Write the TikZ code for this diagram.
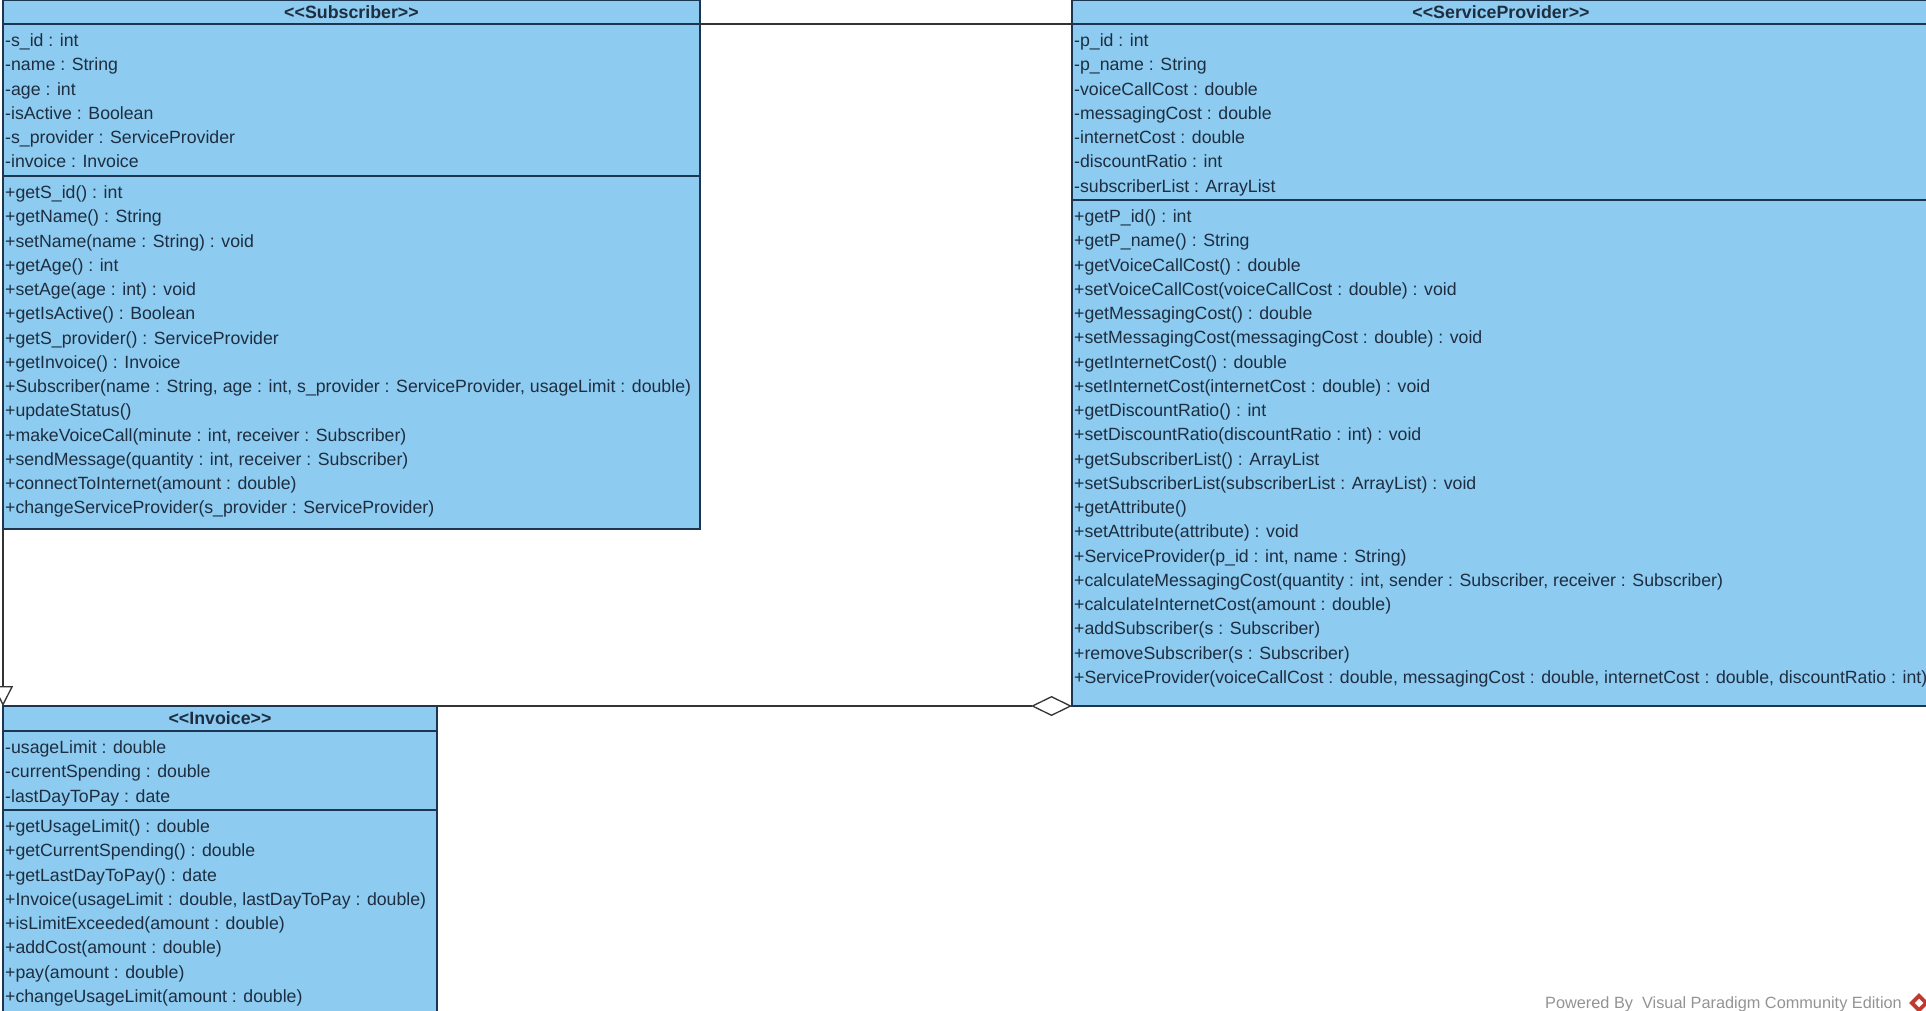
\documentclass[tikz,border=0pt]{standalone}
\usepackage{fontspec}
\setmainfont{Liberation Sans}
\usetikzlibrary{positioning,arrows.meta}
\definecolor{classfill}{HTML}{8DCBF0}
\definecolor{classline}{HTML}{1C3550}
\definecolor{classtext}{HTML}{1E2E40}
\definecolor{assocline}{HTML}{333333}
\definecolor{vpred}{HTML}{C0392F}
\tikzset{
	classbox/.style={draw=classline, line width=1.3pt, fill=classfill, rectangle, inner sep=0pt, outer sep=0pt, anchor=north west},
	namebox/.style={classbox, minimum height=24pt, text=classtext, font=\fontsize{17.8}{20}\selectfont\bfseries},
	rowtext/.style={anchor=north west, align=left, inner xsep=2pt, inner ysep=0pt, text=classtext, font=\fontsize{17.7}{24.25}\selectfont},
	assoc/.style={draw=assocline, line width=1.3pt},
}
\begin{document}
\begin{tikzpicture}[x=1pt, y=-1pt]
	\path[use as bounding box, clip] (0,0) rectangle (1926,1010);
	% subscriber
	\node[namebox, minimum width=697pt] (subname) at (3,0) {{<}{<}Subscriber{>}{>}};
	\node[classbox, minimum width=697pt, minimum height=152pt] (subattrs) at (subname.south west) {};
	\node[classbox, minimum width=697pt, minimum height=353pt] (subops) at (subattrs.south west) {};
	\node[rowtext, below right=9.5pt and 0pt of subattrs.north west] (subattrrows) {-s\_id : int\\-name : String\\-age : int\\-isActive : Boolean\\-s\_provider : ServiceProvider\\-invoice : Invoice};
	\node[rowtext, below right=9.5pt and 0pt of subops.north west] (subrows) {+getS\_id() : int\\+getName() : String\\+setName(name : String) : void\\+getAge() : int\\+setAge(age : int) : void\\+getIsActive() : Boolean\\+getS\_provider() : ServiceProvider\\+getInvoice() : Invoice\\+Subscriber(name : String, age : int, s\_provider : ServiceProvider, usageLimit : double)\\+updateStatus()\\+makeVoiceCall(minute : int, receiver : Subscriber)\\+sendMessage(quantity : int, receiver : Subscriber)\\+connectToInternet(amount : double)\\+changeServiceProvider(s\_provider : ServiceProvider)};
	% service provider
	\node[namebox, minimum width=858pt] (svcname) at (1072,0) {{<}{<}ServiceProvider{>}{>}};
	\node[classbox, minimum width=858pt, minimum height=176pt] (svcattrs) at (svcname.south west) {};
	\node[classbox, minimum width=858pt, minimum height=506pt] (svcops) at (svcattrs.south west) {};
	\node[rowtext, below right=9.5pt and 0pt of svcattrs.north west] (svcattrrows) {-p\_id : int\\-p\_name : String\\-voiceCallCost : double\\-messagingCost : double\\-internetCost : double\\-discountRatio : int\\-subscriberList : ArrayList};
	\node[rowtext, below right=9.5pt and 0pt of svcops.north west] (svcrows) {+getP\_id() : int\\+getP\_name() : String\\+getVoiceCallCost() : double\\+setVoiceCallCost(voiceCallCost : double) : void\\+getMessagingCost() : double\\+setMessagingCost(messagingCost : double) : void\\+getInternetCost() : double\\+setInternetCost(internetCost : double) : void\\+getDiscountRatio() : int\\+setDiscountRatio(discountRatio : int) : void\\+getSubscriberList() : ArrayList\\+setSubscriberList(subscriberList : ArrayList) : void\\+getAttribute()\\+setAttribute(attribute) : void\\+ServiceProvider(p\_id : int, name : String)\\+calculateMessagingCost(quantity : int, sender : Subscriber, receiver : Subscriber)\\+calculateInternetCost(amount : double)\\+addSubscriber(s : Subscriber)\\+removeSubscriber(s : Subscriber)\\+ServiceProvider(voiceCallCost : double, messagingCost : double, internetCost : double, discountRatio : int)};
	% invoice
	\node[namebox, minimum width=434pt, minimum height=25pt] (invname) at (3,706) {{<}{<}Invoice{>}{>}};
	\node[classbox, minimum width=434pt, minimum height=79pt] (invattrs) at (invname.south west) {};
	\node[classbox, minimum width=434pt, minimum height=210pt] (invops) at (invattrs.south west) {};
	\node[rowtext, below right=9.5pt and 0pt of invattrs.north west] (invattrrows) {-usageLimit : double\\-currentSpending : double\\-lastDayToPay : date};
	\node[rowtext, below right=9.5pt and 0pt of invops.north west] (invrows) {+getUsageLimit() : double\\+getCurrentSpending() : double\\+getLastDayToPay() : date\\+Invoice(usageLimit : double, lastDayToPay : double)\\+isLimitExceeded(amount : double)\\+addCost(amount : double)\\+pay(amount : double)\\+changeUsageLimit(amount : double)};
	% connectors
	\draw[assoc] (subname.south east)--(svcname.south west);
	\draw[assoc, -{Triangle[length=20pt, width=20pt, fill=white]}] (subops.south west)--(invname.north west);
	\draw[assoc, {Diamond[length=41pt, width=20pt, fill=white]}-] (svcops.south west)--(invname.north east);
	% watermark
	\node[anchor=east, inner sep=0pt, text=gray!85, font=\fontsize{16.3}{18}\selectfont] (vpmark) at (1902,1004) {Powered By\ \ Visual Paradigm Community Edition};
	\fill[vpred, rotate around={45:(1919,1003)}] (1912,996) rectangle (1926,1010);
	\fill[white, rotate around={45:(1919,1003)}] (1916,1000) rectangle (1922,1006);
\end{tikzpicture}
\end{document}
